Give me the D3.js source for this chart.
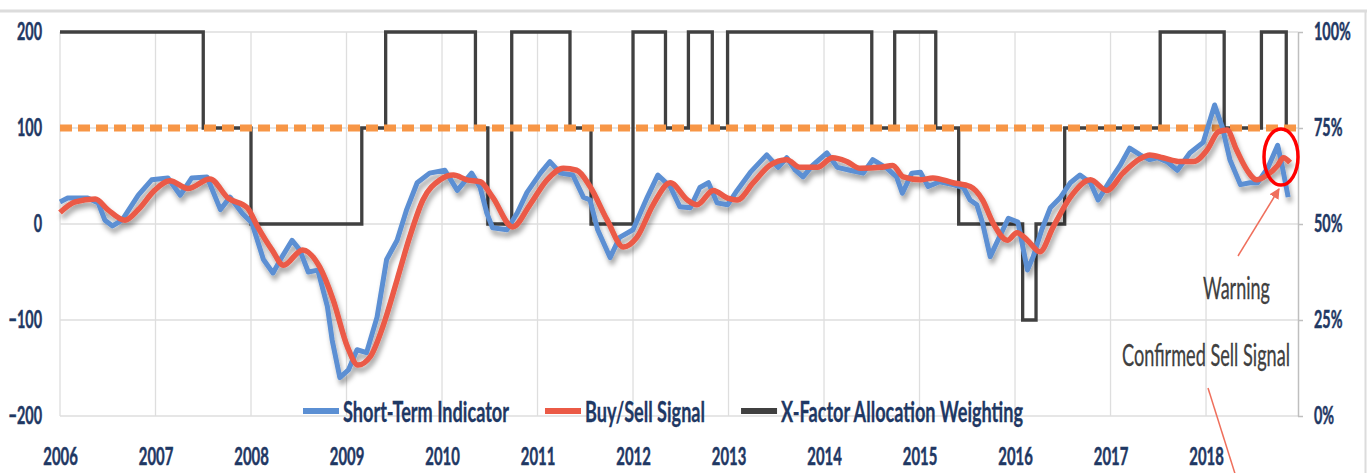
<!DOCTYPE html>
<html>
<head>
<meta charset="utf-8">
<script src="https://cdn.jsdelivr.net/npm/d3@7"></script>
<style>
  html, body { margin: 0; padding: 0; background: #fff; }
  svg { display: block; }
  text { font-family: Lato, "Open Sans", sans-serif; }
</style>
</head>
<body>
<svg id="chart"></svg>
<script>
// axis ticks
const yearTicks = [2006, 2007, 2008, 2009, 2010, 2011, 2012, 2013, 2014, 2015, 2016, 2017, 2018];
const leftTicks = [-200, -100, 0, 100, 200];
const rightTicks = [0, 0.25, 0.5, 0.75, 1];
const signalLevel = 100;

// Short-Term Indicator (blue)
const shortTermYears = [2006.00, 2006.08, 2006.29, 2006.40, 2006.47, 2006.55, 2006.65, 2006.82, 2006.96, 2007.13,
  2007.26, 2007.38, 2007.54, 2007.68, 2007.78, 2007.91, 2008.01, 2008.13, 2008.23, 2008.32,
  2008.43, 2008.51, 2008.60, 2008.70, 2008.80, 2008.85, 2008.93, 2009.02, 2009.11, 2009.21,
  2009.32, 2009.42, 2009.53, 2009.63, 2009.74, 2009.87, 2010.03, 2010.16, 2010.31, 2010.40,
  2010.47, 2010.53, 2010.68, 2010.79, 2010.89, 2011.03, 2011.13, 2011.24, 2011.37, 2011.48,
  2011.55, 2011.63, 2011.76, 2011.86, 2012.00, 2012.15, 2012.26, 2012.39, 2012.49, 2012.60,
  2012.70, 2012.79, 2012.88, 2012.99, 2013.09, 2013.23, 2013.40, 2013.52, 2013.61, 2013.70,
  2013.78, 2013.88, 2014.03, 2014.14, 2014.27, 2014.41, 2014.51, 2014.66, 2014.76, 2014.82,
  2014.92, 2015.01, 2015.09, 2015.21, 2015.35, 2015.46, 2015.53, 2015.60, 2015.66, 2015.74,
  2015.82, 2015.93, 2016.03, 2016.13, 2016.19, 2016.28, 2016.37, 2016.47, 2016.58, 2016.68,
  2016.79, 2016.87, 2017.00, 2017.10, 2017.20, 2017.31, 2017.41, 2017.49, 2017.59, 2017.70,
  2017.83, 2017.97, 2018.09, 2018.17, 2018.25, 2018.36, 2018.46, 2018.54, 2018.65, 2018.75,
  2018.80, 2018.86];
const shortTermValues = [23, 27, 27, 22, 4, -2, 4, 30, 46, 48,
  30, 48, 49, 15, 28, 11, 1, -37, -51, -35,
  -17, -27, -50, -48, -86, -121, -160, -152, -131, -134,
  -97, -37, -17, 15, 43, 53, 56, 35, 53, 38,
  11, -4, -6, 12, 33, 53, 65, 53, 51, 28,
  25, -6, -35, -14, -6, 28, 51, 39, 18, 17,
  38, 43, 22, 20, 35, 54, 72, 59, 69, 56,
  49, 61, 74, 59, 56, 53, 67, 58, 49, 32,
  53, 54, 39, 44, 41, 38, 25, 20, 1, -34,
  -17, 6, 2, -48, -34, -6, 17, 27, 43, 51,
  43, 25, 46, 61, 79, 72, 67, 69, 65, 56,
  74, 85, 124, 101, 67, 41, 43, 43, 59, 82,
  59, 28];

// Buy/Sell Signal (red)
const buySellYears = [2006.00, 2006.16, 2006.37, 2006.50, 2006.68, 2006.82, 2006.99, 2007.15, 2007.34, 2007.57,
  2007.76, 2007.96, 2008.07, 2008.22, 2008.34, 2008.54, 2008.72, 2008.86, 2009.01, 2009.12,
  2009.25, 2009.38, 2009.53, 2009.66, 2009.80, 2009.98, 2010.12, 2010.26, 2010.40, 2010.53,
  2010.74, 2010.92, 2011.10, 2011.27, 2011.41, 2011.55, 2011.73, 2011.90, 2012.04, 2012.21,
  2012.39, 2012.57, 2012.67, 2012.84, 2012.99, 2013.09, 2013.26, 2013.43, 2013.61, 2013.75,
  2013.93, 2014.09, 2014.24, 2014.38, 2014.59, 2014.72, 2014.83, 2015.01, 2015.14, 2015.35,
  2015.53, 2015.66, 2015.77, 2015.92, 2016.02, 2016.13, 2016.26, 2016.40, 2016.58, 2016.79,
  2016.96, 2017.13, 2017.31, 2017.41, 2017.55, 2017.73, 2017.87, 2018.01, 2018.13, 2018.22,
  2018.32, 2018.43, 2018.53, 2018.64, 2018.75, 2018.81, 2018.88];
const buySellValues = [12, 23, 26, 15, 4, 15, 35, 45, 37, 47,
  27, 17, -3, -27, -43, -27, -45, -79, -128, -147,
  -138, -107, -58, -14, 25, 46, 51, 46, 44, 28,
  -3, 20, 46, 58, 56, 39, 4, -24, -14, 20,
  43, 25, 20, 35, 27, 25, 43, 61, 67, 59,
  59, 69, 65, 58, 59, 61, 49, 46, 48, 43,
  39, 25, 1, -17, -9, -17, -29, -3, 28, 46,
  35, 53, 68, 72, 69, 65, 65, 77, 96, 98,
  77, 56, 46, 51, 61, 69, 64];

// X-Factor Allocation Weighting (right axis), value holds until next change
const allocYears = [2006.00, 2007.50, 2008.00, 2009.16, 2009.41, 2010.35, 2010.48, 2010.73, 2011.34, 2011.56,
  2012.00, 2012.34, 2012.58, 2012.83, 2012.99, 2014.50, 2014.74, 2015.17, 2015.41, 2016.08,
  2016.22, 2016.52, 2017.52, 2018.19, 2018.58, 2018.84, 2018.88];
const allocWeights = [1, 0.75, 0.5, 0.75, 1, 0.75, 0.5, 1, 0.75, 0.5,
  1, 0.75, 1, 0.75, 1, 0.75, 1, 0.75, 0.5, 0.25,
  0.5, 0.75, 1, 0.75, 1, 0.75, 0.75];

const seriesNames = ['Short-Term Indicator', 'Buy/Sell Signal', 'X-Factor Allocation Weighting'];
const seriesColors = ['#5b8fd3', '#eb5a46', '#404040'];

const W = 1367, H = 473;
const navy = '#1f3864';

const svg = d3.select('#chart').attr('width', W).attr('height', H);

const defs = svg.append('defs');
const shadow = defs.append('filter').attr('id', 'shadow')
  .attr('x', '-5%').attr('y', '-10%').attr('width', '110%').attr('height', '130%');
shadow.append('feDropShadow')
  .attr('dx', 2).attr('dy', 5).attr('stdDeviation', 2.5)
  .attr('flood-color', '#000').attr('flood-opacity', 0.35);

defs.append('marker').attr('id', 'arrow')
  .attr('viewBox', '0 0 10 10').attr('refX', 9).attr('refY', 5)
  .attr('markerWidth', 7).attr('markerHeight', 7).attr('orient', 'auto')
  .append('path').attr('d', 'M0,0 L10,5 L0,10 z').attr('fill', '#ef6f5c');

// chart frame
svg.append('line').attr('x1', 0).attr('x2', W).attr('y1', 11).attr('y2', 11)
  .attr('stroke', '#dcdcdc').attr('stroke-width', 3);
svg.append('line').attr('x1', 1365.5).attr('x2', 1365.5).attr('y1', 11).attr('y2', H)
  .attr('stroke', '#dcdcdc').attr('stroke-width', 2);

// scales
const x = d3.scaleLinear().domain([2006, 2018.963]).range([60, 1298]);
const y = d3.scaleLinear().domain([-200, 200]).range([416, 32]);
const y2 = d3.scaleLinear().domain([0, 1]).range([416, 32]);

// gridlines
const grid = svg.append('g').attr('stroke', '#dedede').attr('stroke-width', 1.3);
grid.selectAll('.vg').data(yearTicks).join('line')
  .attr('x1', d => x(d)).attr('x2', d => x(d))
  .attr('y1', y(200)).attr('y2', y(-200));
grid.selectAll('.hg').data(leftTicks).join('line')
  .attr('x1', x(2006)).attr('x2', x.range()[1])
  .attr('y1', d => y(d)).attr('y2', d => y(d));

function squeeze(sel, k) {
  sel.each(function () {
    const w = this.getComputedTextLength();
    d3.select(this).attr('textLength', w * k).attr('lengthAdjust', 'spacingAndGlyphs');
  });
}

function labelStyle(sel, size) {
  sel.attr('font-size', size).attr('font-weight', 700).attr('fill', navy)
    .attr('stroke', navy).attr('stroke-width', 0.5)
    .attr('font-family', 'Lato, sans-serif');
}

// left axis
const gl = svg.append('g').attr('transform', `translate(${x(2006)},0)`)
  .call(d3.axisLeft(y).tickValues(leftTicks).tickSize(0).tickPadding(18));
gl.select('.domain').remove();
gl.selectAll('text').call(labelStyle, 24).call(squeeze, 0.6);

// bottom axis
const gb = svg.append('g').attr('transform', `translate(0,${y(-200)})`)
  .call(d3.axisBottom(x).tickValues(yearTicks).tickFormat(d3.format('d')).tickSize(0).tickPadding(32));
gb.select('.domain').remove();
gb.selectAll('text').call(labelStyle, 24).call(squeeze, 0.62);

// right axis
const gr = svg.append('g').attr('transform', `translate(${x.range()[1]},0)`)
  .call(d3.axisRight(y2).tickValues(rightTicks).tickFormat(d3.format('.0%'))
    .tickSize(5).tickSizeOuter(0).tickPadding(11));
gr.select('.domain').attr('stroke', '#bfbfbf').attr('stroke-width', 1.5);
gr.selectAll('.tick line').attr('stroke', '#bfbfbf').attr('stroke-width', 1.5);
gr.selectAll('text').call(labelStyle, 24).call(squeeze, 0.6);

// X-Factor allocation step line
const allocLine = d3.line()
  .x((d, i) => x(allocYears[i]))
  .y(d => y2(d))
  .curve(d3.curveStepAfter);
svg.append('path').datum(allocWeights)
  .attr('d', allocLine)
  .attr('fill', 'none').attr('stroke', seriesColors[2]).attr('stroke-width', 3.3);

// 100 signal level
svg.append('line')
  .attr('x1', x(2006)).attr('x2', x.range()[1] + 4)
  .attr('y1', y(signalLevel)).attr('y2', y(signalLevel))
  .attr('stroke', '#f79646').attr('stroke-width', 7).attr('stroke-dasharray', '12,6');

// indicator lines
const lines = svg.append('g').attr('filter', 'url(#shadow)');
lines.append('path').datum(shortTermValues)
  .attr('d', d3.line().x((d, i) => x(shortTermYears[i])).y(d => y(d)))
  .attr('fill', 'none').attr('stroke', seriesColors[0]).attr('stroke-width', 5)
  .attr('stroke-linejoin', 'round');
lines.append('path').datum(buySellValues)
  .attr('d', d3.line().x((d, i) => x(buySellYears[i])).y(d => y(d)).curve(d3.curveMonotoneX))
  .attr('fill', 'none').attr('stroke', seriesColors[1]).attr('stroke-width', 5.5)
  .attr('stroke-linejoin', 'round');

// legend
const legend = svg.append('g');
const legendTexts = seriesNames.map(n => legend.append('text').text(n).call(labelStyle, 28)
  .attr('stroke-width', 0.3));
const natural = legendTexts.map(t => t.node().getComputedTextLength());
const k = 528 / d3.sum(natural);
let lx = 303;
seriesNames.forEach((n, i) => {
  legend.append('line').attr('x1', lx).attr('x2', lx + 36).attr('y1', 411).attr('y2', 411)
    .attr('stroke', seriesColors[i]).attr('stroke-width', 6);
  const w = natural[i] * k;
  legendTexts[i].attr('x', lx + 40).attr('y', 422)
    .attr('textLength', w).attr('lengthAdjust', 'spacingAndGlyphs');
  lx += 40 + w + 36;
});

// annotations
svg.append('ellipse').attr('cx', 1281).attr('cy', 157).attr('rx', 17).attr('ry', 28)
  .attr('fill', 'none').attr('stroke', '#ff0000').attr('stroke-width', 3.5);
svg.append('line').attr('x1', 1238).attr('y1', 256).attr('x2', 1279).attr('y2', 189)
  .attr('stroke', '#ef6f5c').attr('stroke-width', 1.5).attr('marker-end', 'url(#arrow)');
svg.append('line').attr('x1', 1208).attr('y1', 388).attr('x2', 1237).attr('y2', 480)
  .attr('stroke', '#ef6f5c').attr('stroke-width', 1.5);
svg.append('text').text('Warning').attr('x', 1236.5).attr('y', 299)
  .attr('text-anchor', 'middle').attr('font-size', 30).attr('fill', '#404040')
  .attr('stroke', '#404040').attr('stroke-width', 0.3)
  .attr('textLength', 67).attr('lengthAdjust', 'spacingAndGlyphs');
svg.append('text').text('Confirmed Sell Signal').attr('x', 1206).attr('y', 366)
  .attr('text-anchor', 'middle').attr('font-size', 30).attr('fill', '#404040')
  .attr('stroke', '#404040').attr('stroke-width', 0.3)
  .attr('textLength', 168).attr('lengthAdjust', 'spacingAndGlyphs');
</script>
</body>
</html>
